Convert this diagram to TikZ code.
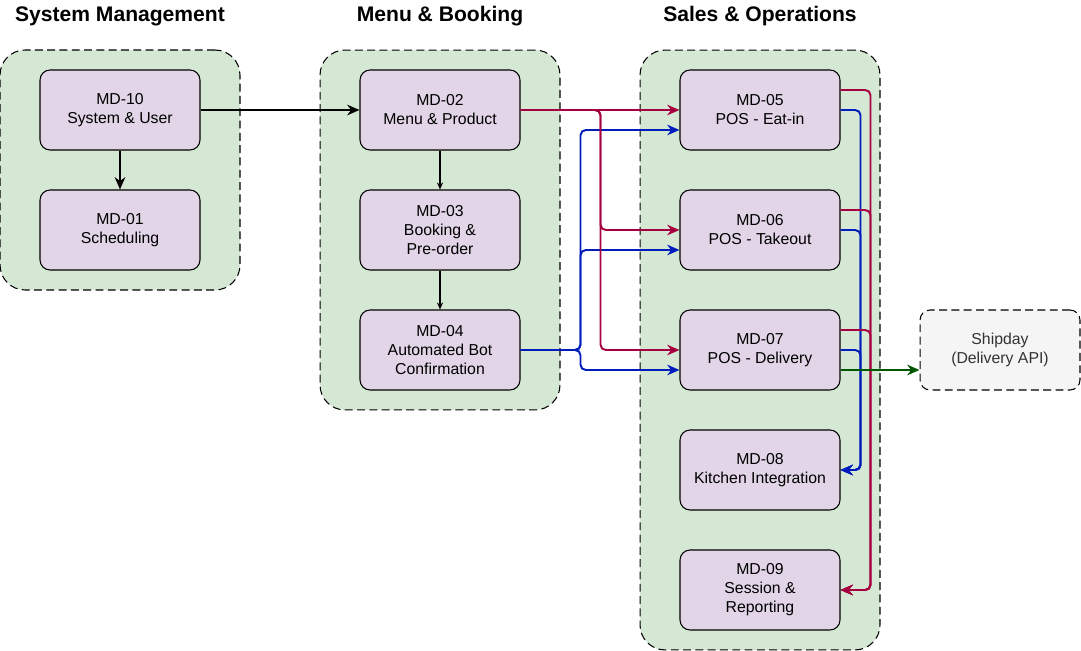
\documentclass[tikz,border=0pt]{standalone}
\usepackage{fontspec}
\setmainfont{Liberation Sans}
\usepackage{tikz}
\usetikzlibrary{positioning, arrows.meta}
\usepackage{xcolor}
\definecolor{grpfill}{HTML}{D5E8D4}
\definecolor{boxfill}{HTML}{E1D5E7}
\definecolor{extfill}{HTML}{F5F5F5}
\definecolor{exttext}{HTML}{333333}
\definecolor{redline}{HTML}{A50040}
\definecolor{blueline}{HTML}{001DBC}
\definecolor{greenline}{HTML}{005700}
\tikzset{
  grp/.style={rectangle, rounded corners=0.5cm, draw=black, fill=grpfill,
              dash pattern=on 4.5pt off 2.5pt, minimum width=4.8cm, line width=0.6pt},
  mbox/.style={rectangle, rounded corners=0.2cm, draw=black, fill=boxfill,
               minimum width=3.2cm, minimum height=1.6cm, align=center,
               line width=0.6pt, font=\fontsize{9}{10.8}\selectfont},
  extbox/.style={mbox, fill=extfill, text=exttext, dash pattern=on 4.5pt off 2.5pt},
  ttl/.style={font=\bfseries\fontsize{12}{14}\selectfont},
  arr/.style={-{Stealth[length=7pt,width=6pt]}, line width=1.2pt},
  tarr/.style={-{Stealth[length=4pt,width=3.5pt]}, line width=0.6pt},
  rarr/.style={arr, line width=1.1pt, draw=redline, rounded corners=3pt},
  barr/.style={arr, line width=1.1pt, draw=blueline, rounded corners=3pt},
  garr/.style={arr, line width=1.1pt, draw=greenline},
}
\begin{document}
\begin{tikzpicture}[x=0.02cm, y=-0.02cm]
  \useasboundingbox (0,0) rectangle (1081,651);

  \node[ttl] (tsys) at (120,16) {System Management};
  \node[ttl] (tmenu) at (440,16) {Menu \& Booking};
  \node[ttl] (tsales) at (760,16) {Sales \& Operations};

  \node[grp, minimum height=4.8cm] (gsys) at (120,170) {};
  \node[grp, minimum height=7.2cm] (gmenu) at (440,230) {};
  \node[grp, minimum height=12cm] (gsales) at (760,350) {};

  \node[mbox] (md10) at (120,110) {MD-10\\System \& User};
  \node[mbox] (md01) at (120,230) {MD-01\\Scheduling};

  \node[mbox] (md02) at (440,110) {MD-02\\Menu \& Product};
  \node[mbox] (md03) at (440,230) {MD-03\\Booking \&\\Pre-order};
  \node[mbox] (md04) at (440,350) {MD-04\\Automated Bot\\Confirmation};

  \node[mbox] (md05) at (760,110) {MD-05\\POS - Eat-in};
  \node[mbox] (md06) at (760,230) {MD-06\\POS - Takeout};
  \node[mbox] (md07) at (760,350) {MD-07\\POS - Delivery};
  \node[mbox] (md08) at (760,470) {MD-08\\Kitchen Integration};
  \node[mbox] (md09) at (760,590) {MD-09\\Session \&\\Reporting};

  \node[extbox] (ship) at (1000,350) {Shipday\\(Delivery API)};

  \draw[arr] (md10) -- (md02);
  \draw[arr] (md10) -- (md01);
  \draw[tarr] (md02) -- (md03);
  \draw[tarr] (md03) -- (md04);

  \draw[barr] (md04.east) -- ++(60,0) |- ([yshift=-0.4cm]md05.west);
  \draw[barr] (md04.east) -- ++(60,0) |- ([yshift=-0.4cm]md06.west);
  \draw[barr] (md04.east) -- ++(60,0) |- ([yshift=-0.4cm]md07.west);

  \draw[rarr] (md02.east) -- (md05.west);
  \draw[rarr] (md02.east) -- ++(80,0) |- (md06.west);
  \draw[rarr] (md02.east) -- ++(80,0) |- (md07.west);

  \draw[barr] (md05.east) -- ++(20,0) |- (md08.east);
  \draw[barr] (md06.east) -- ++(20,0) |- (md08.east);
  \draw[barr] (md07.east) -- ++(20,0) |- (md08.east);

  \draw[rarr] ([yshift=0.4cm]md05.east) -- ++(30,0) |- (md09.east);
  \draw[rarr] ([yshift=0.4cm]md06.east) -- ++(30,0) |- (md09.east);
  \draw[rarr] ([yshift=0.4cm]md07.east) -- ++(30,0) |- (md09.east);

  \draw[garr] ([yshift=-0.4cm]md07.east) -- ([yshift=-0.4cm]ship.west);
\end{tikzpicture}
\end{document}
